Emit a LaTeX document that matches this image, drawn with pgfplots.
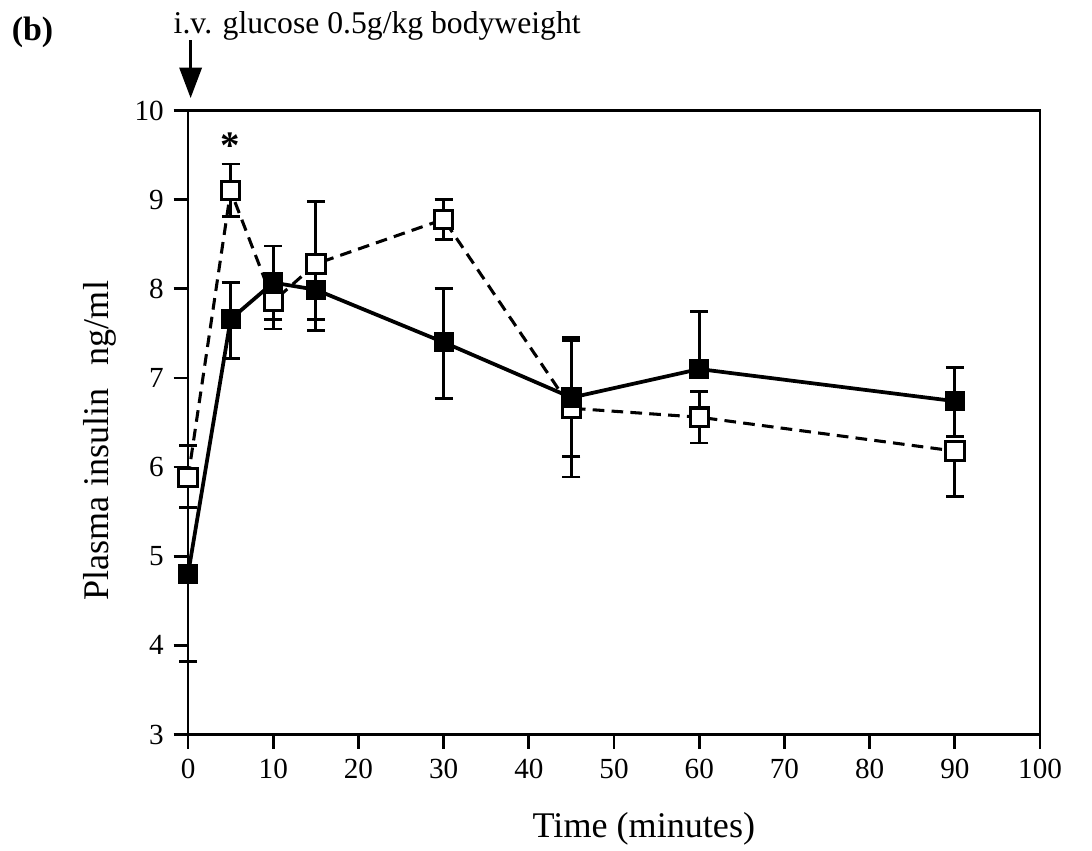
\documentclass[border=0pt]{standalone}
\usepackage{pgfplots}
\pgfplotsset{compat=1.18}
\usepackage{pgfplotstable}
\usepackage{fontspec}
\setmainfont{Liberation Serif}
\usetikzlibrary{arrows.meta}

% Plasma insulin (ng/ml) after i.v. glucose; ep/em = upper/lower error
\pgfplotstableread{
t    y     ep    em
0    4.80  0.00  0.98
5    7.66  0.41  0.44
10   8.07  0.41  0.41
15   7.99  0.00  0.46
30   7.40  0.60  0.63
45   6.78  0.67  0.66
60   7.10  0.65  0.00
90   6.74  0.38  0.40
}\closedtab

\pgfplotstableread{
t    y     ep    em
0    5.88  0.36  0.33
5    9.10  0.30  0.29
10   7.86  0.00  0.31
15   8.28  0.70  0.62
30   8.78  0.22  0.23
45   6.66  0.76  0.77
60   6.56  0.29  0.29
90   6.18  0.00  0.51
}\opentab

\begin{document}
\begin{tikzpicture}
\begin{axis}[
  scale only axis,
  width=306.7pt, height=224.6pt,
  xmin=0, xmax=100, ymin=3, ymax=10,
  xtick={0,10,...,100}, ytick={3,4,...,10},
  tick align=outside, tick pos=left,
  major tick length=5.2pt,
  every tick/.style={black, line width=1pt},
  axis line style={line width=1pt},
  tick label style={font=\fontsize{10.5}{12}\selectfont},
  /pgf/number format/assume math mode=true,
  xlabel={Time (minutes)},
  ylabel={Plasma insulin\hspace{0.65em}ng/ml},
  xlabel style={font=\fontsize{13}{15}\selectfont, at={(axis description cs:0.535,-0.165)}, anchor=base},
  ylabel style={font=\fontsize{13}{15}\selectfont, at={(axis description cs:-0.103,0.471)}, anchor=center},
  clip=false,
]
% error bars of the closed series, kept beneath the open squares
\addplot[only marks, mark=none,
  error bars/.cd, y dir=both, y explicit,
  error bar style={black, line width=1pt},
  error mark options={rotate=90, mark size=3.25pt, line width=1pt, black}]
  table[x=t, y=y, y error plus=ep, y error minus=em] {\closedtab};

% open squares, dashed
\addplot[black, line width=1.1pt, dash pattern=on 4.2pt off 2.6pt,
  mark=square*, mark size=3.3pt,
  mark options={solid, fill=white, draw=black, line width=1.1pt},
  error bars/.cd, y dir=both, y explicit,
  error bar style={solid, black, line width=1pt},
  error mark options={solid, rotate=90, mark size=3.25pt, line width=1pt, black}]
  table[x=t, y=y, y error plus=ep, y error minus=em] {\opentab};

% closed squares, solid
\addplot[black, line width=1.35pt, mark=square*, mark size=3.4pt,
  mark options={fill=black, line width=0.5pt}]
  table[x=t, y=y] {\closedtab};

\node[inner sep=0pt, anchor=north, font=\fontsize{14}{14}\selectfont\bfseries] at (axis cs:5,9.76) {*};

\node[inner sep=0pt, anchor=base, font=\fontsize{11.4}{13}\selectfont] at (rel axis cs:0.222,1.124) {i.v. glucose 0.5g/kg bodyweight};
\node[inner sep=0pt, anchor=base, font=\fontsize{12.2}{14}\selectfont\bfseries] at (rel axis cs:-0.1825,1.113) {(b)};
\draw[line width=1pt, -{Triangle[length=11pt, width=8pt]}] (rel axis cs:0.003,1.113) -- (rel axis cs:0.003,1.02);
\end{axis}
\pgfresetboundingbox
\path[use as bounding box] (-67.7pt,-41.9pt) rectangle (325.4pt,264.4pt);
\end{tikzpicture}
\end{document}
